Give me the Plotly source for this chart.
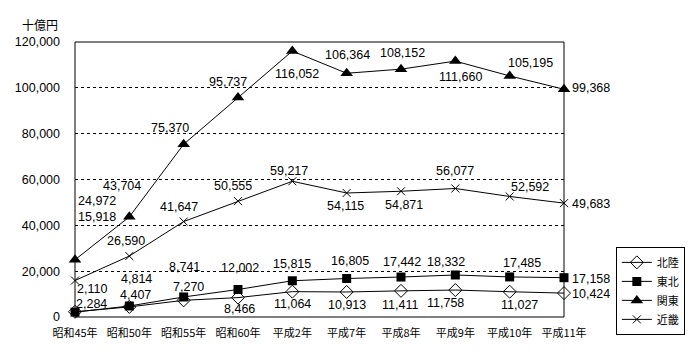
import plotly.graph_objects as go

categories = ["昭和45年", "昭和50年", "昭和55年", "昭和60年", "平成2年",
              "平成7年", "平成8年", "平成9年", "平成10年", "平成11年"]
hokuriku = [2284, 4407, 7270, 8466, 11064, 10913, 11411, 11758, 11027, 10424]
tohoku = [2110, 4814, 8741, 12002, 15815, 16805, 17442, 18332, 17485, 17158]
kanto = [24972, 43704, 75370, 95737, 116052, 106364, 108152, 111660, 105195, 99368]
kinki = [15918, 26590, 41647, 50555, 59217, 54115, 54871, 56077, 52592, 49683]

series_names = ["北陸", "東北", "関東", "近畿"]
series_values = [hokuriku, tohoku, kanto, kinki]
y_ticks = [0, 20000, 40000, 60000, 80000, 100000, 120000]

# label offsets in pixels (dx, dy down-positive) per series / point
label_offsets = [
    [(16, -8), (6, -12), (5, -13), (1, 11), (0, 12), (0, 13), (-1, 14), (-10, 13), (10, 13), (27, 1)],
    [(17, -23), (7, -27), (1, -30), (2, -22), (0, -17), (3, -17), (1, -15), (-9, -13), (12, -14), (27, 1)],
    [(22, -59), (-7, -31), (-14, -16), (-10, -16), (5, 23), (1, -18), (1, -16), (5, 16), (21, -13), (27, -1)],
    [(22, -64), (-3, -15), (-5, -15), (-5, -15), (-3, -10), (-1, 13), (3, 14), (0, -17), (20, -9), (27, 1)],
]
marker_styles = [
    dict(symbol="diamond-open", size=10, color="black", line=dict(width=1, color="black")),
    dict(symbol="square", size=9, color="black"),
    dict(symbol="triangle-up", size=11, color="black"),
    dict(symbol="x-thin", size=8, color="black", line=dict(width=1, color="black")),
]
num_font = "Liberation Sans, Arial, sans-serif"

fig = go.Figure()
for name, vals, mk in zip(series_names, series_values, marker_styles):
    fig.add_trace(go.Scatter(
        x=categories, y=vals, name=name, mode="lines+markers",
        line=dict(color="black", width=1), marker=mk, cliponaxis=False,
    ))

annotations = []
for vals, offs in zip(series_values, label_offsets):
    for cat, v, (dx, dy) in zip(categories, vals, offs):
        annotations.append(dict(
            x=cat, y=v, xref="x", yref="y", text=f"{v:,}", showarrow=False,
            xshift=dx, yshift=-dy, borderpad=0,
            font=dict(family=num_font, size=12.5, color="black"),
        ))
annotations.append(dict(
    x=-0.072, y=1.065, xref="paper", yref="paper", text="十億円", showarrow=False,
    xanchor="center", yanchor="middle", font=dict(size=12, color="black"),
))

# plot area border
shapes = [dict(type="rect", xref="paper", yref="paper", x0=0, y0=0, x1=1, y1=1,
               line=dict(color="black", width=1), layer="above")]

fig.update_layout(
    width=700, height=360,
    margin=dict(l=75, r=136, t=42, b=43),
    paper_bgcolor="white", plot_bgcolor="white",
    font=dict(family="Noto Sans CJK JP, sans-serif", size=12, color="black"),
    showlegend=True,
    legend=dict(x=1.106, y=0.255, xanchor="left", yanchor="top",
                bordercolor="black", borderwidth=1, bgcolor="white",
                font=dict(size=11), itemwidth=30, tracegroupgap=0),
    annotations=annotations,
    shapes=shapes,
    xaxis=dict(type="category", range=[0, 9], showgrid=False, zeroline=False,
               showline=False, tickfont=dict(size=11), ticks="", fixedrange=True,
               ticklabelstandoff=8),
    yaxis=dict(range=[0, 120000], tickvals=y_ticks,
               ticktext=[f"{t:,}" for t in y_ticks],
               showgrid=True, gridcolor="black", griddash="dot", gridwidth=1,
               zeroline=False, showline=False, ticks="",
               tickfont=dict(family=num_font, size=12.5),
               ticklabelstandoff=14),
)
fig.write_html("out.html", config={"displayModeBar": False},
               post_script="document.body.style.margin='0';document.body.style.padding='0';")
